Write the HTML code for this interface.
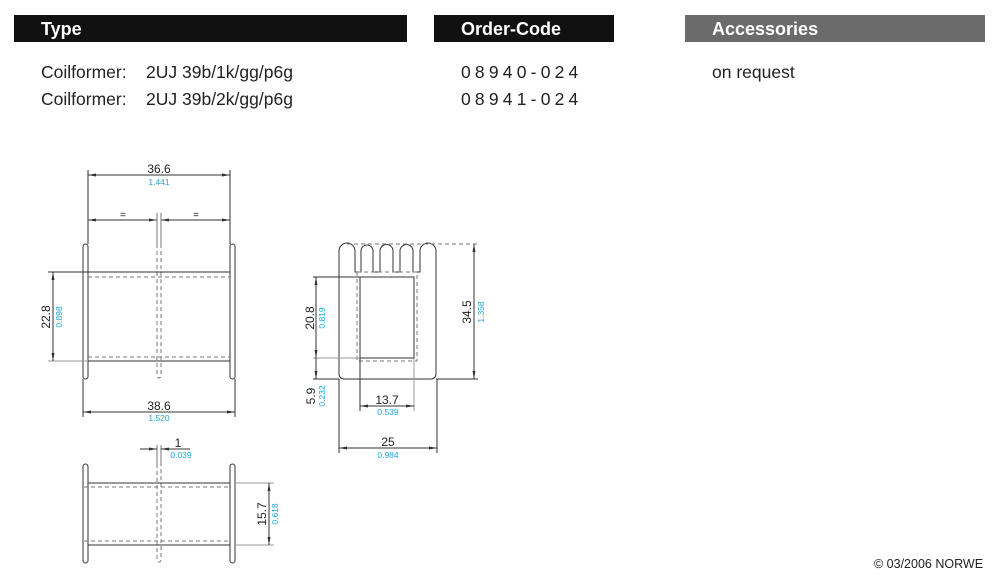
<!DOCTYPE html>
<html><head><style>
body{margin:0;width:1000px;height:587px;background:#fff;overflow:hidden;position:relative;font-family:"Liberation Sans",Arial,sans-serif}
.bar{position:absolute;top:15px;height:27px;background:#111;color:#fff;font-weight:bold;font-size:18px;line-height:29px;box-sizing:border-box;padding-left:27px}
.t{position:absolute;font-size:17.5px;color:#222;white-space:nowrap}
</style></head><body>
<div class="bar" style="left:14px;width:393px">Type</div>
<div class="bar" style="left:434px;width:180px">Order-Code</div>
<div class="bar" style="left:685px;width:300px;background:#6b6b6b">Accessories</div>
<div class="t" style="left:41px;top:62px">Coilformer:&nbsp;&nbsp;&nbsp;&nbsp;2UJ 39b/1k/gg/p6g</div>
<div class="t" style="left:41px;top:89px">Coilformer:&nbsp;&nbsp;&nbsp;&nbsp;2UJ 39b/2k/gg/p6g</div>
<div class="t" style="left:461px;top:62px;letter-spacing:4.2px">08940-024</div>
<div class="t" style="left:461px;top:89px;letter-spacing:4.2px">08941-024</div>
<div class="t" style="left:712px;top:62px">on request</div>
<div class="t" style="left:874px;top:557px;font-size:12.5px">© 03/2006 NORWE</div>
<svg width="1000" height="587" style="position:absolute;left:0;top:0" font-family="Liberation Sans,Arial,sans-serif">
<defs>
<marker id="a" markerWidth="8" markerHeight="6" refX="8" refY="3" orient="auto-start-reverse" markerUnits="userSpaceOnUse"><path d="M0,1.5L8,3L0,4.5z" fill="#333"/></marker>
</defs>
<g stroke="#333" stroke-width="1" fill="none">
<line x1="88" y1="170" x2="88" y2="244"/><line x1="230" y1="170" x2="230" y2="244"/>
<line x1="88" y1="175" x2="230" y2="175" marker-start="url(#a)" marker-end="url(#a)"/>
<line x1="88" y1="220" x2="157" y2="220" marker-start="url(#a)" marker-end="url(#a)"/>
<line x1="161" y1="220" x2="230" y2="220" marker-start="url(#a)" marker-end="url(#a)"/>
<path d="M157,213V244M161,213V244" stroke="#777"/>
<path d="M157,244V376a2,2 0 0 0 4,0V244" stroke="#777" stroke-dasharray="4,3"/>
<rect x="83" y="244" width="5" height="135" rx="2.5"/>
<rect x="230" y="244" width="5" height="135" rx="2.5"/>
<line x1="88" y1="272" x2="230" y2="272"/><line x1="88" y1="361" x2="230" y2="361"/>
<line x1="88" y1="277" x2="230" y2="277" stroke="#777" stroke-dasharray="4,3"/>
<line x1="88" y1="357" x2="230" y2="357" stroke="#777" stroke-dasharray="4,3"/>
<line x1="48" y1="272" x2="88" y2="272"/><line x1="48" y1="361" x2="88" y2="361" stroke="#999"/>
<line x1="53" y1="272" x2="53" y2="361" marker-start="url(#a)" marker-end="url(#a)"/>
<line x1="83" y1="379" x2="83" y2="417"/><line x1="235" y1="379" x2="235" y2="417"/>
<line x1="83" y1="412" x2="235" y2="412" marker-start="url(#a)" marker-end="url(#a)"/>
<rect x="83" y="464" width="5" height="99" rx="2.5"/>
<rect x="230" y="464" width="5" height="99" rx="2.5"/>
<path d="M157,445V464M161,445V464" stroke="#777"/>
<path d="M157,464V560a2,2 0 0 0 4,0V464" stroke="#777" stroke-dasharray="4,3"/>
<line x1="88" y1="483" x2="230" y2="483"/><line x1="88" y1="545" x2="230" y2="545"/>
<line x1="84" y1="487" x2="230" y2="487" stroke="#777" stroke-dasharray="4,3"/>
<line x1="84" y1="541" x2="230" y2="541" stroke="#777" stroke-dasharray="4,3"/>
<line x1="235" y1="483" x2="274" y2="483" stroke="#999"/><line x1="235" y1="545" x2="274" y2="545" stroke="#999"/>
<line x1="269" y1="483" x2="269" y2="545" marker-start="url(#a)" marker-end="url(#a)"/>
<line x1="140" y1="449" x2="157" y2="449" marker-end="url(#a)"/>
<line x1="190" y1="449" x2="161" y2="449" marker-end="url(#a)"/>
<path d="M339,251a8,8 0 0 1 16,0V272H361V251a6,6 0 0 1 12,0V272H380V251a6.5,6.5 0 0 1 13,0V272H400V251a6.5,6.5 0 0 1 13,0V272H420V251a8,8 0 0 1 16,0V374a5,5 0 0 1 -5,5H344a5,5 0 0 1 -5,-5z"/>
<line x1="347" y1="244" x2="478" y2="244" stroke="#777" stroke-dasharray="4,3"/>
<rect x="360" y="277" width="54" height="81"/>
<rect x="357" y="272" width="60" height="89" stroke="#777" stroke-dasharray="4,3"/>
<line x1="313" y1="277" x2="360" y2="277"/>
<line x1="313" y1="358" x2="360" y2="358" stroke="#999"/>
<line x1="316" y1="277" x2="316" y2="358" marker-start="url(#a)" marker-end="url(#a)"/>
<line x1="316" y1="358" x2="316" y2="379" marker-end="url(#a)"/>
<line x1="313" y1="379" x2="339" y2="379"/>
<line x1="436" y1="379" x2="478" y2="379"/>
<line x1="474" y1="244" x2="474" y2="379" marker-start="url(#a)" marker-end="url(#a)"/>
<line x1="360" y1="358" x2="360" y2="411"/><line x1="414" y1="358" x2="414" y2="411" stroke="#999"/>
<line x1="360" y1="406" x2="414" y2="406" marker-start="url(#a)" marker-end="url(#a)"/>
<line x1="339" y1="379" x2="339" y2="453"/><line x1="437" y1="379" x2="437" y2="453"/>
<line x1="339" y1="448" x2="437" y2="448" marker-start="url(#a)" marker-end="url(#a)"/>
</g>
<g font-size="12" fill="#222" text-anchor="middle">
<text x="159" y="173">36.6</text>
<text x="123" y="218" font-size="10">=</text><text x="196" y="218" font-size="10">=</text>
<text x="159" y="410">38.6</text>
<text x="178" y="447">1</text>
<text transform="translate(50,317) rotate(-90)">22.8</text>
<text transform="translate(266,514) rotate(-90)">15.7</text>
<text transform="translate(314,318) rotate(-90)">20.8</text>
<text transform="translate(315,396) rotate(-90)">5.9</text>
<text transform="translate(471,312) rotate(-90)">34.5</text>
<text x="387" y="404">13.7</text>
<text x="388" y="446">25</text>
</g>
<g font-size="8.5" fill="#1aa6d8" text-anchor="middle">
<text x="159" y="185">1.441</text>
<text x="159" y="421">1.520</text>
<text x="181" y="458">0.039</text>
<text transform="translate(62,317) rotate(-90)">0.898</text>
<text transform="translate(278,514) rotate(-90)">0.618</text>
<text transform="translate(325,318) rotate(-90)">0.819</text>
<text transform="translate(325,396) rotate(-90)">0.232</text>
<text transform="translate(484,312) rotate(-90)">1.358</text>
<text x="388" y="415">0.539</text>
<text x="388" y="458">0.984</text>
</g>
</svg>
</body></html>
